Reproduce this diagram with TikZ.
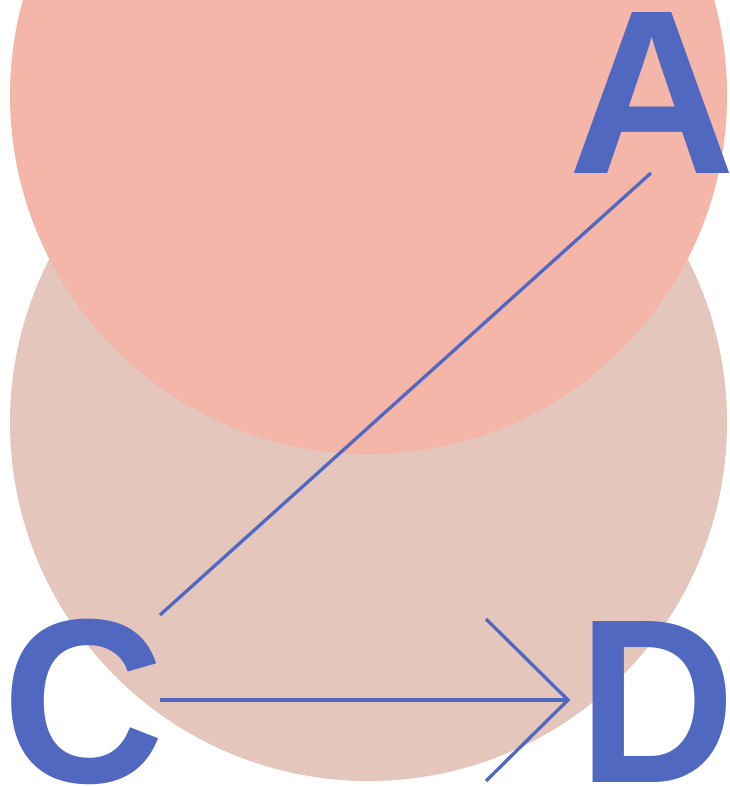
\documentclass[tikz,border=0pt]{standalone}
\usepackage{fontspec}
\setmainfont{Liberation Sans}
\definecolor{bluec}{HTML}{5068C0}
\definecolor{topc}{HTML}{F4B6A9}
\definecolor{botc}{HTML}{E4C6BC}
\tikzset{
  letter/.style={inner sep=0pt, outer sep=0pt, text=bluec, font=\fontsize{234}{234}\selectfont\bfseries, anchor=base west},
  conn/.style={draw=bluec, line width=3.3pt}
}
\begin{document}
\begin{tikzpicture}[x=1pt,y=1pt]
\useasboundingbox (0,0) rectangle (729,786);
\fill[botc] (368.5,363.5) circle (358.5);
\fill[topc] (368.5,690.5) circle (358.5);
\node[letter, xscale=0.99] (A) at (568,612) {A};
\node[letter, xscale=0.96] (C) at (2,4) {C};
\node[letter, xscale=0.93] (D) at (578,4) {D};
\coordinate (aEnd) at (651,613);
\coordinate (cTop) at (160,171);
\coordinate (cRight) at (160,86);
\coordinate (dTip) at (568,86);
\coordinate (barbU) at (486,167);
\coordinate (barbL) at (486,5);
\draw[conn] (aEnd) -- (cTop);
\draw[conn] (cRight) -- (dTip);
\draw[conn] (barbU) -- (dTip) -- (barbL);
\end{tikzpicture}
\end{document}
